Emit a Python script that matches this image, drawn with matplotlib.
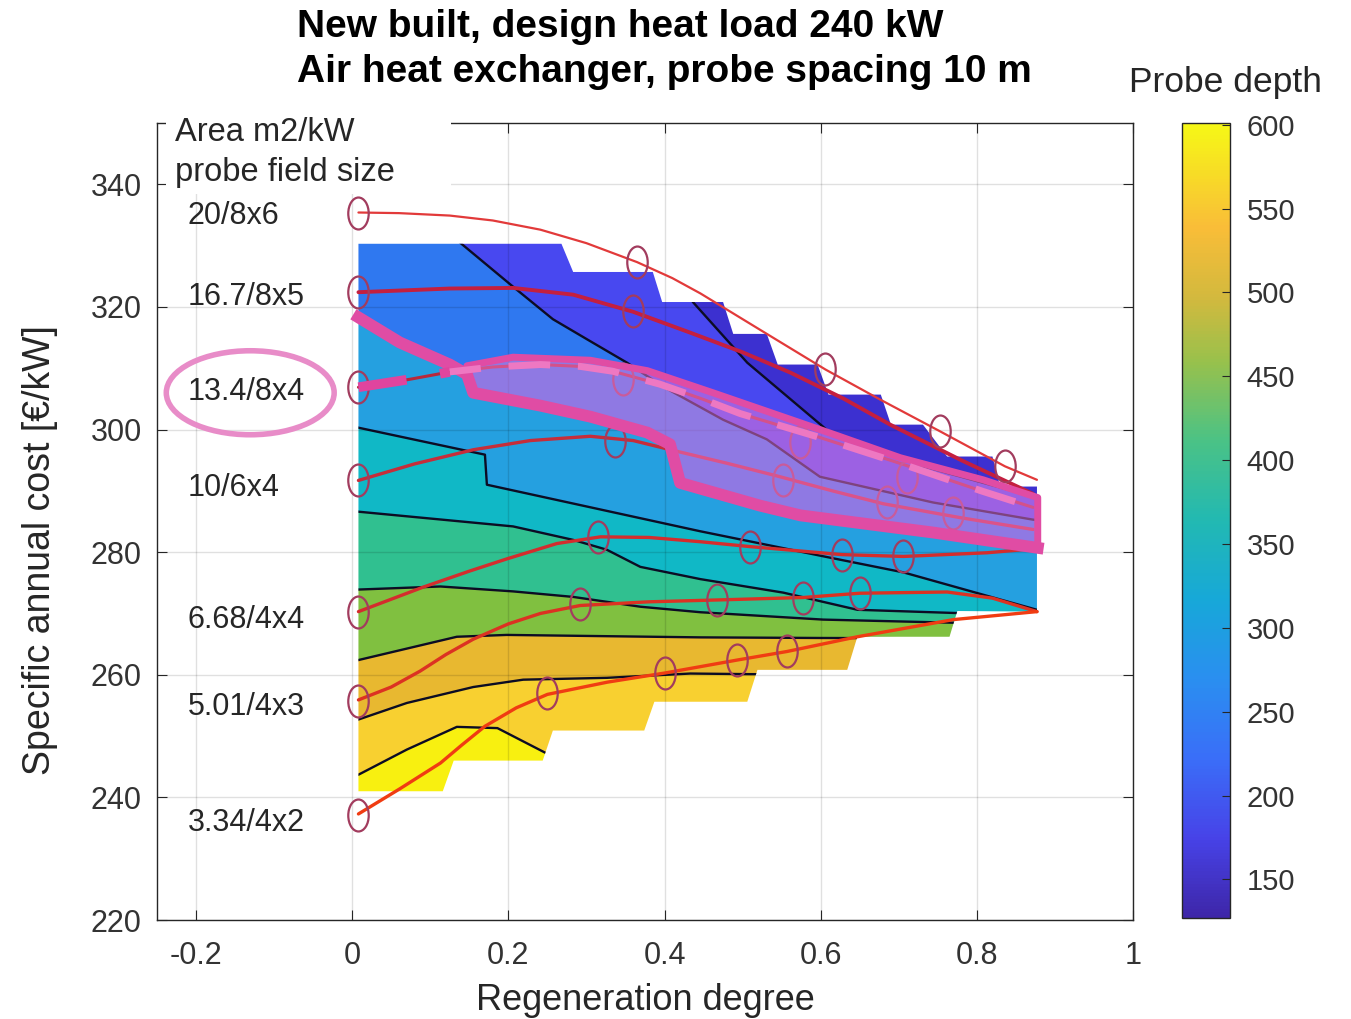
import numpy as np
import matplotlib
matplotlib.use('Agg')
import matplotlib.pyplot as plt
from matplotlib.patches import Polygon, Ellipse, Rectangle
from matplotlib.path import Path
from matplotlib.colors import LinearSegmentedColormap, Normalize
from matplotlib.cm import ScalarMappable

plt.rcParams.update({
    'font.family': ['Liberation Sans', 'DejaVu Sans'],
    'axes.edgecolor': '#262626', 'axes.linewidth': 1.0,
    'xtick.color': '#262626', 'ytick.color': '#262626',
})

# ------------------------------------------------------------------ data
# stepped outline of the evaluated region (regeneration degree, cost)
region_x = [0.008, 0.268, 0.283, 0.385, 0.397, 0.475, 0.488, 0.531, 0.545, 0.596,
            0.610, 0.677, 0.690, 0.731, 0.762, 0.820, 0.830, 0.877, 0.877, 0.775,
            0.765, 0.647, 0.634, 0.519, 0.506, 0.387, 0.374, 0.257, 0.244, 0.130,
            0.116, 0.008]
region_y = [330.3, 330.3, 325.7, 325.7, 320.8, 320.8, 315.6, 315.6, 310.6, 310.6,
            305.7, 305.7, 300.8, 300.8, 295.6, 295.6, 290.7, 290.7, 270.3, 270.4,
            266.2, 266.2, 260.8, 260.8, 255.6, 255.6, 250.9, 250.9, 246.0, 246.0,
            241.0, 241.0]

# probe-depth contour lines, top to bottom
top_x, top_y = [0.0, 0.9], [360, 360]
L1_x = [0.0, 0.38, 0.437, 0.506, 0.612, 0.731, 0.877, 0.9]
L1_y = [356, 330, 320.7, 310.9, 299.5, 294.0, 288.9, 288.5]
L2_x = [0.0, 0.10, 0.138, 0.206, 0.257, 0.301, 0.352, 0.398, 0.475, 0.531, 0.599, 0.744, 0.872, 0.9]
L2_y = [352, 336, 330.5, 323.3, 318.0, 314.7, 310.9, 307.0, 301.6, 298.4, 292.3, 288.1, 285.3, 285.0]
L3_x = [0.0, 0.008, 0.061, 0.125, 0.147, 0.155, 0.241, 0.305, 0.378, 0.407, 0.420, 0.522, 0.574, 0.744, 0.878, 0.9]
L3_y = [319.5, 318.3, 314.2, 310.6, 309.0, 306.0, 303.9, 302.1, 299.5, 297.6, 291.3, 287.6, 286.0, 283.2, 280.7, 280.4]
L4_x = [0.0, 0.008, 0.170, 0.1725, 0.446, 0.612, 0.706, 0.877, 0.9]
L4_y = [300.4, 300.3, 295.9, 291.0, 283.4, 279.1, 276.7, 270.6, 270.2]
L5_x = [0.0, 0.008, 0.206, 0.283, 0.326, 0.369, 0.446, 0.552, 0.647, 0.766, 0.9]
L5_y = [286.7, 286.6, 284.2, 282.0, 280.4, 277.6, 275.6, 273.4, 270.6, 270.1, 269.6]
L6_x = [0.0, 0.008, 0.113, 0.206, 0.283, 0.369, 0.446, 0.603, 0.766, 0.9]
L6_y = [273.9, 273.9, 274.4, 273.6, 272.7, 271.1, 270.2, 269.0, 268.5, 268.0]
L7_x = [0.0, 0.008, 0.134, 0.198, 0.446, 0.6, 0.9]
L7_y = [262.3, 262.4, 266.2, 266.5, 266.1, 266.0, 265.9]
L8_x = [0.0, 0.008, 0.070, 0.155, 0.219, 0.326, 0.433, 0.510, 0.9]
L8_y = [252.6, 252.7, 255.4, 258.0, 259.2, 259.5, 260.2, 260.1, 260.1]
L9_x = [0.0, 0.008, 0.070, 0.134, 0.186, 0.247, 0.3]
L9_y = [243.6, 243.7, 247.8, 251.5, 251.3, 247.3, 244.0]
bot_x, bot_y = [0.0, 0.9], [230, 230]
band_colors = ['#3c30d0', '#4848f0', '#2f78f0', '#25a0e0', '#10b8c6',
               '#30c090', '#80c040', '#e8b830', '#f8d030', '#f8f010']

# annual-cost curves per probe field
labels = ['20/8x6', '16.7/8x5', '13.4/8x4', '10/6x4', '6.68/4x4', '5.01/4x3', '3.34/4x2']
label_y = [334.8, 321.6, 306.2, 290.5, 269.0, 254.8, 235.8]
c1_x = [0.008, 0.06, 0.125, 0.18, 0.241, 0.30, 0.365, 0.41, 0.446, 0.522, 0.606,
        0.676, 0.753, 0.836, 0.877]
c1_y = [335.4, 335.3, 334.9, 334.1, 332.6, 330.4, 327.3, 324.7, 322.2, 316.3, 309.8,
        304.9, 299.7, 294.0, 291.8]
c2_x = [0.008, 0.125, 0.206, 0.283, 0.360, 0.433, 0.50, 0.561, 0.63, 0.689, 0.78, 0.872]
c2_y = [322.4, 323.0, 323.1, 322.0, 319.2, 315.8, 312.6, 309.3, 305.0, 300.8, 295.0, 289.5]
c3_x = [0.008, 0.074, 0.125, 0.18, 0.241, 0.292, 0.334, 0.394, 0.45, 0.497, 0.599,
        0.706, 0.808, 0.872]
c3_y = [306.9, 308.2, 309.4, 310.2, 310.6, 310.3, 309.5, 307.4, 304.9, 302.6, 298.7,
        294.3, 289.9, 287.3]
c4_x = [0.008, 0.08, 0.155, 0.228, 0.305, 0.36, 0.411, 0.48, 0.548, 0.615, 0.680, 0.78, 0.872]
c4_y = [291.7, 294.4, 296.7, 298.2, 298.9, 298.2, 296.6, 294.5, 292.3, 290.0, 287.9, 285.6, 283.7]
c5_x = [0.008, 0.091, 0.15, 0.198, 0.262, 0.318, 0.38, 0.446, 0.510, 0.627, 0.706, 0.813, 0.877]
c5_y = [270.3, 274.3, 276.9, 278.9, 281.4, 282.5, 282.4, 281.7, 280.9, 279.6, 279.3, 279.9, 280.6]
c6_x = [0.008, 0.05, 0.087, 0.12, 0.155, 0.20, 0.241, 0.292, 0.38, 0.467, 0.577, 0.650,
        0.762, 0.82, 0.877]
c6_y = [255.9, 258.0, 260.6, 263.3, 265.8, 268.3, 270.0, 271.3, 271.9, 272.2, 272.6, 273.3,
        273.5, 272.5, 270.3]
c7_x = [0.008, 0.061, 0.113, 0.14, 0.17, 0.21, 0.250, 0.327, 0.401, 0.493, 0.557, 0.647,
        0.770, 0.877]
c7_y = [237.3, 241.4, 245.6, 248.5, 251.6, 254.6, 256.8, 258.8, 260.3, 262.4, 263.8, 266.2,
        269.0, 270.3]
curve_colors = ['#e23a3a', '#c41f3f', '#b8283c', '#c62d3a', '#d42d2d', '#dc3222', '#f03c12']
curve_widths = [1.6, 2.8, 2.2, 2.4, 2.4, 2.4, 2.4]

# evaluated points (circles)
m1_x, m1_y = [0.008, 0.365, 0.606, 0.753, 0.836], [335.4, 327.3, 309.8, 299.7, 294.0]
m2_x, m2_y = [0.008, 0.359], [322.4, 319.3]
m3_x, m3_y = [0.008, 0.347, 0.574, 0.711], [306.9, 308.2, 297.9, 292.3]
m4_x, m4_y = [0.008, 0.337, 0.552, 0.685, 0.770], [291.7, 298.2, 291.8, 288.1, 286.4]
m5_x, m5_y = [0.008, 0.315, 0.510, 0.627, 0.706], [270.3, 282.5, 280.9, 279.6, 279.3]
m6_x, m6_y = [0.008, 0.292, 0.467, 0.577, 0.650], [255.8, 271.6, 272.2, 272.6, 273.4]
m7_x, m7_y = [0.008, 0.250, 0.401, 0.493, 0.557], [237.1, 257.1, 260.3, 262.4, 263.8]

# highlighted band (annotation)
hl_x = [0.147, 0.206, 0.305, 0.378, 0.462, 0.599, 0.702, 0.808, 0.878,
        0.878, 0.744, 0.574, 0.522, 0.420, 0.407, 0.378, 0.305, 0.241, 0.155]
hl_y = [310.4, 311.8, 311.3, 309.6, 306.0, 300.0, 295.4, 291.8, 288.9,
        280.7, 283.2, 286.0, 287.6, 291.3, 297.6, 299.5, 302.1, 303.9, 306.0]

# ------------------------------------------------------------------ figure
fig = plt.figure(figsize=(13.51, 10.19), dpi=100)
ax = fig.add_axes([157/1351, 99/1019, 976/1351, 797/1019])
cax = fig.add_axes([1182/1351, 101/1019, 48/1351, 795/1019])

clip = Polygon(np.column_stack([region_x, region_y]), closed=True, transform=ax.transData)

bounds = [(top_x, top_y), (L1_x, L1_y), (L2_x, L2_y), (L3_x, L3_y), (L4_x, L4_y),
          (L5_x, L5_y), (L6_x, L6_y), (L7_x, L7_y), (L8_x, L8_y), (L9_x, L9_y), (bot_x, bot_y)]
for i, col in enumerate(band_colors):
    ux, uy = bounds[i]
    lx, ly = bounds[i + 1]
    px = list(ux) + list(lx)[::-1]
    py = list(uy) + list(ly)[::-1]
    f, = ax.fill(px, py, color=col, lw=0, zorder=1)
    f.set_clip_path(clip)
for k, (bx, by) in enumerate(bounds[1:-1]):
    if k == 2:
        continue
    ln, = ax.plot(bx, by, color='#0c0c24', lw=1.7, zorder=2)
    ln.set_clip_path(clip)

ell = Path.unit_circle()
ell_marker = Path(ell.vertices * np.array([0.64, 1.0]), ell.codes)
curves = [(c1_x, c1_y), (c2_x, c2_y), (c3_x, c3_y), (c4_x, c4_y),
          (c5_x, c5_y), (c6_x, c6_y), (c7_x, c7_y)]
marks = [(m1_x, m1_y), (m2_x, m2_y), (m3_x, m3_y), (m4_x, m4_y),
         (m5_x, m5_y), (m6_x, m6_y), (m7_x, m7_y)]
for (cx, cy), (mx, my), col, lw in zip(curves, marks, curve_colors, curve_widths):
    ax.plot(cx, cy, color=col, lw=lw, zorder=3, solid_capstyle='round',
            solid_joinstyle='round')
    ax.plot(mx, my, ls='none', marker=ell_marker, ms=23, mfc='none',
            mec='#a23c5e', mew=1.6, zorder=4, clip_on=False)

# pink highlight
ax.add_patch(Polygon(np.column_stack([hl_x, hl_y]), closed=True, facecolor='#f07ad8',
                     alpha=0.5, edgecolor='none', zorder=5))
ax.add_patch(Polygon(np.column_stack([hl_x, hl_y]), closed=True, facecolor='none',
                     edgecolor='#e04ca4', lw=5, zorder=6, joinstyle='round'))
ax.plot(L3_x[1:-1], L3_y[1:-1], color='#e04ca4', lw=8.5, zorder=6, solid_joinstyle='round')
ax.plot(c3_x[:3], c3_y[:3], color='#e0449e', lw=7, ls=(0, (5, 3.5)), zorder=7)
ax.plot(c3_x[2:], c3_y[2:], color='#ee78c2', lw=5, ls=(1.5, (6, 4)), zorder=7)
ax.add_patch(Ellipse((-0.1306, 306.0), 0.215, 13.7, facecolor='none', edgecolor='#e88cc8',
                     lw=4, zorder=8, clip_on=False))

# row labels
for name, yv in zip(labels, label_y):
    ax.text(-0.211, yv, name, ha='left', va='center', fontsize=22, color='#262626', zorder=9)
ax.add_patch(Rectangle((-0.239, 338.4), 0.365, 14.5, facecolor='white', edgecolor='none',
                       zorder=20, clip_on=False))
ax.text(-0.227, 347.0, 'Area m2/kW', ha='left', va='baseline', fontsize=23.5,
        color='#262626', zorder=21, clip_on=False)
ax.text(-0.227, 340.5, 'probe field size', ha='left', va='baseline', fontsize=23.5,
        color='#262626', zorder=21, clip_on=False)

ax.set_xlim(-0.25, 1.0)
ax.set_ylim(220, 350)
ax.set_xticks([-0.2, 0, 0.2, 0.4, 0.6, 0.8, 1.0])
ax.set_xticklabels(['-0.2', '0', '0.2', '0.4', '0.6', '0.8', '1'])
ax.set_yticks(np.arange(220, 341, 20))
ax.tick_params(direction='in', top=True, right=True, length=7, labelsize=22,
               labelcolor='#333333', pad=11)
ax.tick_params(axis='x', pad=15)
ax.grid(True, color='black', alpha=0.12, lw=1.0)
ax.set_axisbelow(False)

fig.text(40/1351, 1 - 550/1019, 'Specific annual cost [\u20ac/kW]', rotation=90,
         ha='center', va='center', fontsize=27, color='#262626')
fig.text(645/1351, 1 - 1000/1019, 'Regeneration degree', ha='center', va='center',
         fontsize=26, color='#262626')
fig.text(297/1351, 1 - 37/1019, 'New built, design heat load 240 kW', ha='left',
         va='baseline', fontsize=28, fontweight='bold', color='black')
fig.text(297/1351, 1 - 82/1019, 'Air heat exchanger, probe spacing 10 m', ha='left',
         va='baseline', fontsize=28, fontweight='bold', color='black')
fig.text(1225/1351, 1 - 92/1019, 'Probe depth', ha='center', va='baseline',
         fontsize=25.5, color='#262626')

# colorbar (parula-like)
parula = LinearSegmentedColormap.from_list('parula', [
    (0.00, '#3e26a8'), (0.10, '#4743e8'), (0.20, '#3a6ef8'), (0.30, '#2a8ff0'),
    (0.40, '#17a8d8'), (0.50, '#22b9b2'), (0.60, '#4ac286'), (0.70, '#98c14c'),
    (0.78, '#d2b93e'), (0.87, '#f9bd38'), (1.00, '#f6f816')])
cb = fig.colorbar(ScalarMappable(norm=Normalize(127, 601), cmap=parula), cax=cax,
                  ticks=np.arange(150, 601, 50))
cb.ax.tick_params(direction='in', length=6, labelsize=21, labelcolor='#333333', pad=12)
cb.outline.set_linewidth(1.0)
cb.outline.set_edgecolor('#262626')

fig.savefig('out.png', dpi=100)
